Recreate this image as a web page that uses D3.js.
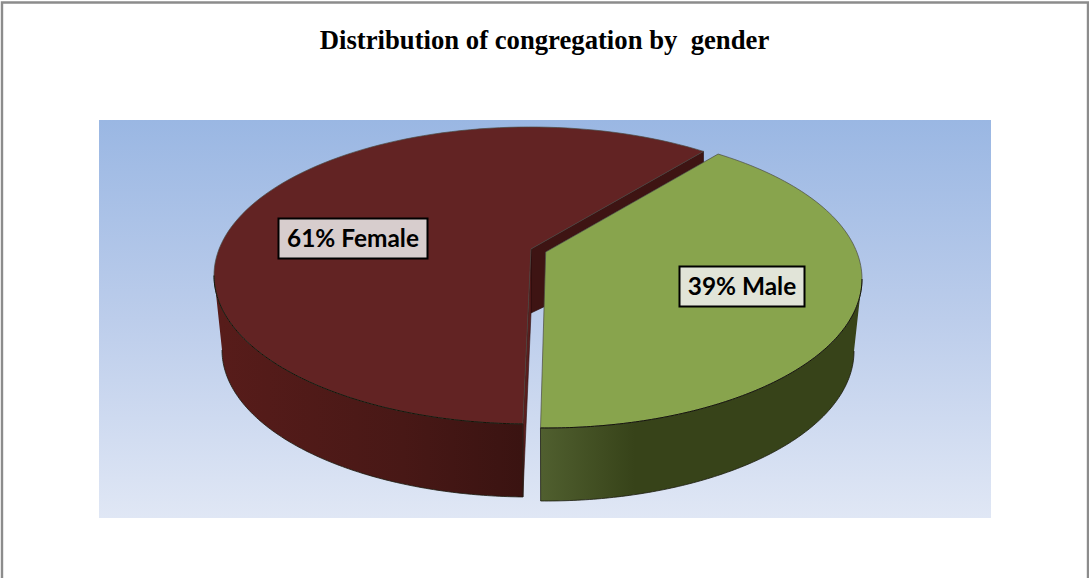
<!DOCTYPE html>
<html>
<head>
<meta charset="utf-8">
<script src="https://cdnjs.cloudflare.com/ajax/libs/d3/7.8.5/d3.min.js"></script>
<style>
html, body { margin: 0; padding: 0; background: #fff; overflow: hidden; }
svg { display: block; }
</style>
</head>
<body>
<div id="chart"></div>
<script>
var titleText = 'Distribution of congregation by  gender';
var genders = ['Male', 'Female'];
var shares = [39, 61];

var width = 1089, height = 578;

// perspective of the pie: screen angle (degrees) for a pie angle (degrees)
var angleScale = d3.scaleLinear().domain([0, 140.4, 360]).range([33, 181, 393]);

// each slice is pulled apart, with its own top and bottom rim
var slices = {
    Male: {
        top: {cx: 546, cy: 279, rx: 316, ry: 149},
        bottom: {cx: 546, cy: 351, rx: 308, ry: 150},
        apex: [-0.3, -27],
        turn: 0,
        fill: '#88a44d', label: '#e1e4d8',
        wall: ['#505f2f', '#374319', '#374319'], wallStops: [0, 0.3, 1],
        box: {x: 679.5, y: 266.5, w: 125, h: 40}
    },
    Female: {
        top: {cx: 530, cy: 275.5, rx: 316, ry: 148.5},
        bottom: {cx: 530, cy: 350, rx: 308, ry: 147},
        apex: [1, -26.5],
        turn: 0.3,
        fill: '#622323', label: '#d7cdcd',
        wall: ['#571c1a', '#481816', '#3a1311'], wallStops: [0, 0.6, 1],
        box: {x: 278.5, y: 218.5, w: 149, h: 40}
    }
};

var pie = d3.pie().sort(null).value(function(d){ return d.share; })
    .startAngle(0).endAngle(2 * Math.PI);
var arcs = pie(genders.map(function(g, i){ return {gender: g, share: shares[i]}; }));

function rimPoint(e, deg) {
    var a = deg * Math.PI / 180;
    return [e.cx + e.rx * Math.sin(a), e.cy - e.ry * Math.cos(a)];
}

function rim(e, from, to) {
    return d3.range(0, 121).map(function(i){
        return rimPoint(e, from + (to - from) * i / 120);
    });
}

function apexPoint(s) {
    return [s.top.cx + s.apex[0], s.top.cy + s.apex[1]];
}

var line = d3.line();

var svg = d3.select('#chart').append('svg')
    .attr('width', width)
    .attr('height', height);

var defs = svg.append('defs');

var bg = defs.append('linearGradient')
    .attr('id', 'bg').attr('x1', 0).attr('y1', 0).attr('x2', 0).attr('y2', 1);
bg.append('stop').attr('offset', 0).attr('stop-color', '#9ab7e3');
bg.append('stop').attr('offset', 0.5).attr('stop-color', '#bccdeb');
bg.append('stop').attr('offset', 1).attr('stop-color', '#e0e7f5');

// page frame
svg.append('path')
    .attr('d', 'M2,' + height + 'V2.5H1088V' + height)
    .attr('fill', 'none')
    .attr('stroke', '#8c8c8c')
    .attr('stroke-width', 2.4);

svg.append('text')
    .attr('x', 544.5)
    .attr('y', 49)
    .attr('text-anchor', 'middle')
    .style('font-family', '"Liberation Serif", serif')
    .style('font-weight', 'bold')
    .style('font-size', '26.7px')
    .style('white-space', 'pre')
    .text(titleText);

svg.append('rect')
    .attr('x', 99).attr('y', 120)
    .attr('width', 892).attr('height', 398)
    .attr('fill', 'url(#bg)');

var viewport = svg.append('g').attr('class', 'viewport');

var male = arcs[0], female = arcs[1];
var deg = 180 / Math.PI;
var maleS = slices.Male, femaleS = slices.Female;
var fTipDeg = angleScale(male.startAngle * deg) + femaleS.turn;
var fLowDeg = angleScale(male.endAngle * deg) + femaleS.turn;
var fApex = apexPoint(femaleS), mApex = apexPoint(maleS);
var fTip = rimPoint(femaleS.top, fTipDeg);
var fLow = rimPoint(femaleS.top, fLowDeg);
var fLowB = rimPoint(femaleS.bottom, fLowDeg);

// the inner faces of the female slice, seen through the gap
viewport.append('path')
    .attr('d', line([fApex, fTip, [fTip[0], fTip[1] + 11], mApex,
        [mApex[0], mApex[1] + 54], [fApex[0], fApex[1] + 64]]) + 'Z')
    .attr('fill', '#3e1413')
    .attr('stroke', '#220a0a')
    .attr('stroke-width', 0.6);
viewport.append('path')
    .attr('d', line([fApex, fLow, [fLow[0], fLowB[1]], [fApex[0], fApex[1] + 64]]) + 'Z')
    .attr('fill', '#5a1f1e')
    .attr('stroke', '#2a0c0c')
    .attr('stroke-width', 0.6);

arcs.forEach(function(d) {
    var s = slices[d.data.gender];
    var isMale = d.data.gender === 'Male';
    var a0 = angleScale(d.startAngle * deg) + s.turn;
    var a1 = angleScale(d.endAngle * deg) + s.turn;
    var wallFrom = isMale ? 90 : 270;
    var wallTo = isMale ? a1 : a0;
    var x0 = rimPoint(s.bottom, wallFrom)[0], x1 = rimPoint(s.bottom, wallTo)[0];

    var grad = defs.append('linearGradient')
        .attr('id', 'wall' + d.data.gender)
        .attr('gradientUnits', 'userSpaceOnUse')
        .attr('x1', isMale ? x1 : x0).attr('y1', 0)
        .attr('x2', isMale ? x0 : x1).attr('y2', 0);
    s.wall.forEach(function(c, i){
        grad.append('stop').attr('offset', s.wallStops[i]).attr('stop-color', c);
    });

    // outer wall
    var wallPts = rim(s.top, wallFrom, wallTo).concat(rim(s.bottom, wallTo, wallFrom));
    viewport.append('path')
        .attr('d', line(wallPts) + 'Z')
        .attr('fill', 'url(#wall' + d.data.gender + ')');
    viewport.append('path')
        .attr('d', line(rim(s.bottom, wallFrom, wallTo).concat([rimPoint(s.top, wallTo)])))
        .attr('fill', 'none')
        .attr('stroke', '#1c1c10')
        .attr('stroke-width', 0.8);

    // top surface
    var topPts = [apexPoint(s)].concat(rim(s.top, a0, a1));
    viewport.append('path')
        .attr('d', line(topPts) + 'Z')
        .attr('fill', s.fill)
        .attr('stroke', '#4a4a44')
        .attr('stroke-width', 0.7);

    // darker front edge of the rim
    viewport.append('path')
        .attr('d', line(rim(s.top, wallFrom, wallTo)))
        .attr('fill', 'none')
        .attr('stroke', '#141408')
        .attr('stroke-width', 1);
});

arcs.forEach(function(d) {
    var s = slices[d.data.gender];
    var g = viewport.append('g').attr('class', 'label');
    g.append('rect')
        .attr('x', s.box.x).attr('y', s.box.y)
        .attr('width', s.box.w).attr('height', s.box.h)
        .attr('fill', s.label)
        .attr('stroke', '#000')
        .attr('stroke-width', 2);
    g.append('text')
        .attr('x', s.box.x + s.box.w / 2)
        .attr('y', s.box.y + s.box.h / 2 + 8.5)
        .attr('text-anchor', 'middle')
        .style('font-family', 'Lato, "Open Sans", sans-serif')
        .style('font-weight', 'bold')
        .style('font-size', '24.4px')
        .text(d.data.share + '% ' + d.data.gender);
});
</script>
</body>
</html>
